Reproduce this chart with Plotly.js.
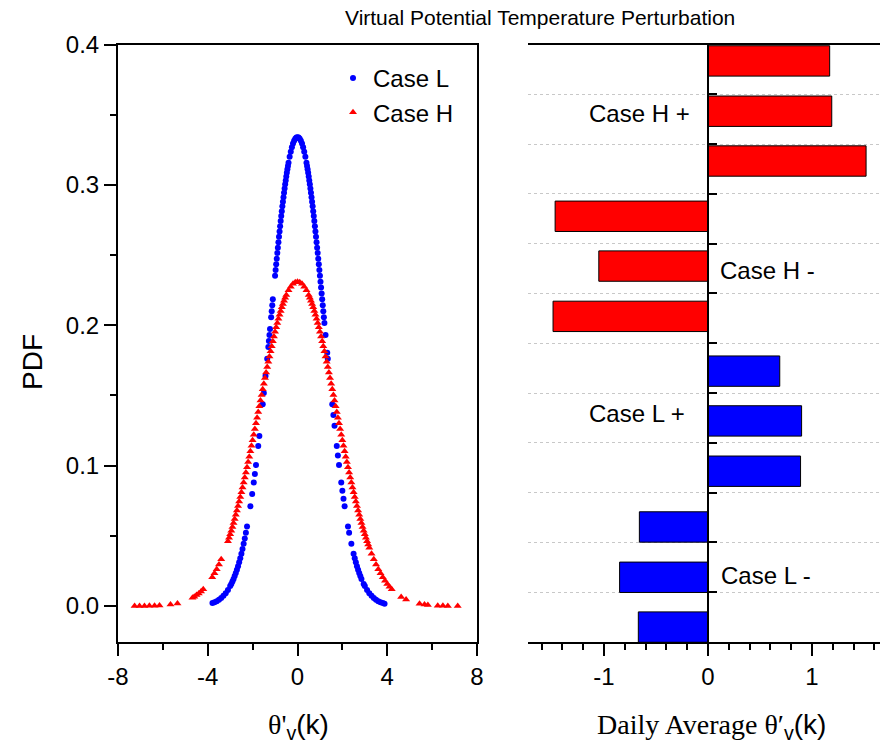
<!DOCTYPE html>
<html>
<head>
<meta charset="utf-8">
<script src="https://cdn.plot.ly/plotly-3.0.1.min.js"></script>
<style>html,body{margin:0;padding:0;background:#fff;}#chart{width:880px;height:753px;}</style>
</head>
<body>
<div id="chart"></div>
<script>
// ---- Left panel: PDF of virtual potential temperature perturbation ----
const caseLX = [-3.79,-3.7,-3.6,-3.5,-3.4,-3.3,-3.2,-3.1,-3.0,-2.95,-2.9,-2.85,-2.8,-2.75,-2.7,-2.65,-2.6,-2.55,-2.5,-2.45,-2.4,-2.35,-2.3,-2.25,
  -2.1,-2.02,-1.95,-1.9,-1.85,-1.75,-1.7,-1.55,-1.5,-1.425,-1.35,-1.3,-1.275,-1.25,-1.225,-1.175,-1.15,-1.125,-1.1,
  -1.0,-0.975,-0.95,-0.925,-0.9,-0.875,-0.85,-0.825,-0.8,-0.775,-0.75,-0.725,-0.7,-0.675,-0.65,-0.625,-0.6,
  -0.575,-0.55,-0.525,-0.5,-0.475,-0.45,-0.425,-0.4,-0.35,-0.3,-0.25,-0.2,-0.15,-0.1,-0.05,0,
  0.05,0.1,0.15,0.2,0.25,0.3,0.35,0.4,0.425,0.45,0.475,0.5,0.525,0.55,0.575,
  0.6,0.625,0.65,0.675,0.7,0.725,0.75,0.775,0.8,0.825,0.85,0.875,0.9,0.925,0.95,0.975,1.0,1.025,1.05,1.075,1.1,1.125,1.15,1.175,1.2,
  1.25,1.325,1.35,1.55,1.6,1.65,1.75,1.8,1.85,1.95,2.0,2.05,2.1,2.25,2.3,2.4,2.5,2.55,2.6,2.65,2.7,2.75,2.8,2.85,2.95,3.0,3.1,3.2,3.3,3.4,3.5,3.6,3.7,3.8,3.88];
const caseLY = [0.0022,0.0027,0.0035,0.0045,0.0058,0.0073,0.0092,0.0115,0.0142,0.0158,0.0175,0.0193,0.0214,0.0235,0.0259,0.0284,0.0312,0.0341,0.0373,0.0407,0.0443,0.0481,0.0522,0.0566,
  0.0711,0.0798,0.0880,0.0941,0.1005,0.1141,0.1212,0.1438,0.1517,0.1638,0.1762,0.1846,0.1888,0.1931,0.1973,0.2058,0.2100,0.2143,0.2185,
  0.2352,0.2393,0.2434,0.2474,0.2514,0.2553,0.2592,0.2631,0.2668,0.2706,0.2742,0.2778,0.2813,0.2847,0.2880,0.2912,0.2944,
  0.2974,0.3004,0.3032,0.3059,0.3086,0.3111,0.3135,0.3158,0.3200,0.3236,0.3268,0.3294,0.3314,0.3328,0.3337,0.3340,
  0.3337,0.3328,0.3314,0.3294,0.3268,0.3236,0.3200,0.3158,0.3135,0.3111,0.3086,0.3059,0.3032,0.3004,0.2974,
  0.2944,0.2912,0.2880,0.2847,0.2813,0.2778,0.2742,0.2706,0.2668,0.2631,0.2592,0.2553,0.2514,0.2474,0.2434,0.2393,0.2352,0.2310,0.2269,0.2227,0.2185,0.2143,0.2100,0.2058,0.2016,
  0.1931,0.1804,0.1762,0.1438,0.1361,0.1285,0.1141,0.1072,0.1005,0.0880,0.0821,0.0765,0.0711,0.0566,0.0522,0.0443,0.0373,0.0341,0.0312,0.0284,0.0259,0.0235,0.0214,0.0193,0.0158,0.0142,0.0115,0.0092,0.0073,0.0058,0.0045,0.0035,0.0027,0.0021,0.0017];

const caseHX = [-7.26,-7.04,-6.82,-6.6,-6.37,-6.15,-5.66,-5.35,-4.68,-4.6,-4.5,-4.4,-4.3,-4.2,-3.8,-3.7,-3.6,-3.5,-3.4,-3.1,-3.05,-3.0,
  -2.95,-2.9,-2.85,-2.8,-2.75,-2.7,-2.65,-2.6,-2.55,-2.5,-2.45,-2.4,-2.35,-2.3,-2.25,-2.2,-2.15,-2.1,-2.05,-2.0,
  -1.95,-1.9,-1.85,-1.8,-1.75,-1.7,-1.65,-1.6,-1.55,-1.5,-1.45,-1.4,-1.35,-1.3,-1.25,-1.2,-1.15,-1.1,-1.05,-1.0,
  -0.95,-0.9,-0.85,-0.8,-0.75,-0.7,-0.65,-0.6,-0.55,-0.5,-0.4,-0.3,-0.2,-0.1,0,0.1,0.2,0.3,0.4,
  0.5,0.55,0.6,0.65,0.7,0.75,0.8,0.85,0.9,0.95,1.0,1.05,1.1,1.15,1.2,1.25,1.3,1.35,1.4,1.45,1.5,1.55,1.6,1.65,1.7,1.75,
  1.8,1.85,1.9,1.95,2.0,2.05,2.1,2.15,2.2,2.25,2.3,2.35,2.4,2.45,2.5,2.55,2.6,2.65,2.7,2.75,2.8,2.85,2.9,2.95,3.0,
  3.05,3.1,3.15,3.2,3.3,3.4,3.5,3.6,3.7,3.8,3.9,4.0,4.1,4.2,4.62,4.84,5.44,5.66,5.81,6.25,6.48,6.7,7.14];
const caseHY = [0.0000,0.0001,0.0001,0.0002,0.0003,0.0004,0.0011,0.0019,0.0059,0.0067,0.0078,0.0090,0.0104,0.0120,0.0205,0.0233,0.0263,0.0296,0.0333,0.0461,0.0486,0.0511,
  0.0537,0.0564,0.0592,0.0621,0.0650,0.0681,0.0712,0.0744,0.0777,0.0810,0.0845,0.0880,0.0915,0.0952,0.0989,0.1026,0.1064,0.1103,0.1142,0.1181,
  0.1221,0.1261,0.1302,0.1342,0.1383,0.1423,0.1464,0.1504,0.1544,0.1584,0.1624,0.1663,0.1702,0.1740,0.1778,0.1815,0.1851,0.1886,0.1920,0.1954,
  0.1986,0.2017,0.2047,0.2075,0.2102,0.2128,0.2152,0.2175,0.2196,0.2215,0.2249,0.2275,0.2295,0.2306,0.2310,0.2306,0.2295,0.2275,0.2249,
  0.2215,0.2196,0.2175,0.2152,0.2128,0.2102,0.2075,0.2047,0.2017,0.1986,0.1954,0.1920,0.1886,0.1851,0.1815,0.1778,0.1740,0.1702,0.1663,0.1624,0.1584,0.1544,0.1504,0.1464,0.1423,0.1383,
  0.1342,0.1302,0.1261,0.1221,0.1181,0.1142,0.1103,0.1064,0.1026,0.0989,0.0952,0.0915,0.0880,0.0845,0.0810,0.0777,0.0744,0.0712,0.0681,0.0650,0.0621,0.0592,0.0564,0.0537,0.0511,
  0.0486,0.0461,0.0438,0.0415,0.0372,0.0333,0.0296,0.0263,0.0233,0.0205,0.0180,0.0158,0.0138,0.0120,0.0065,0.0046,0.0016,0.0011,0.0008,0.0003,0.0002,0.0001,0.0000];

const seriesNames = ['Case L', 'Case H'];

// ---- Right panel: daily average perturbation bars ----
const barValues = [1.17, 1.19, 1.52, -1.47, -1.05, -1.49, 0.69, 0.90, 0.89, -0.66, -0.85, -0.67];
const barPosition = [11.67, 10.66, 9.66, 8.55, 7.55, 6.54, 5.44, 4.44, 3.43, 2.31, 1.30, 0.30];
const barCase = ['H','H','H','H','H','H','L','L','L','L','L','L'];
const groupLabels = ['Case H +', 'Case H -', 'Case L +', 'Case L -'];

const leftXTicks = [-8, -4, 0, 4, 8];
const leftXTickText = ['-8', '-4', '0', '4', '8'];
const leftYTicks = [0, 0.1, 0.2, 0.3, 0.4];
const leftYTickText = ['0.0', '0.1', '0.2', '0.3', '0.4'];
const rightXTicks = [-1, 0, 1];
const rightXTickText = ['-1', '0', '1'];
const rightYTicks = [1, 2, 3, 4, 5, 6, 7, 8, 9, 10, 11];

const SANS = 'Arial, "Liberation Sans", sans-serif';
const SERIF = '"Times New Roman", "Liberation Serif", serif';
const BLUE = '#0000FF', RED = '#FF0000';

const traces = [
  {type: 'scatter', mode: 'markers', name: seriesNames[0], x: caseLX, y: caseLY,
   marker: {symbol: 'circle', size: 6, color: BLUE}, xaxis: 'x', yaxis: 'y'},
  {type: 'scatter', mode: 'markers', name: seriesNames[1], x: caseHX, y: caseHY,
   marker: {symbol: 'triangle-up', size: 7, color: RED}, xaxis: 'x', yaxis: 'y'},
  {type: 'bar', orientation: 'h', x: barValues, y: barPosition, width: 0.61,
   marker: {color: barCase.map(c => c === 'H' ? RED : BLUE), line: {color: '#000', width: 1}},
   xaxis: 'x2', yaxis: 'y2', showlegend: false, hoverinfo: 'skip'}
];

const W = 880, H = 753;
const yDom = [(H - 642) / H, (H - 44.5) / H];
const zeroPos = 708 / W;
const axCommon = {showline: true, linecolor: '#000', linewidth: 2, ticks: 'outside', tickcolor: '#000',
  tickwidth: 2, ticklen: 12, showgrid: false, zeroline: false, tickfont: {family: SANS, size: 24, color: '#000'}};

const layout = {
  width: W, height: H,
  margin: {l: 0, r: 0, t: 0, b: 0},
  paper_bgcolor: '#fff', plot_bgcolor: '#fff',
  font: {family: SANS, size: 24, color: '#000'},
  showlegend: true,
  legend: {x: 333 / W, y: 1 - 56 / H, xanchor: 'left', yanchor: 'top', bgcolor: 'rgba(0,0,0,0)',
    font: {family: SANS, size: 24, color: '#000'}, tracegroupgap: 0},
  xaxis: Object.assign({}, axCommon, {domain: [118 / W, 477 / W], range: [-8, 8], anchor: 'y', mirror: true,
    tickmode: 'array', tickvals: leftXTicks, ticktext: leftXTickText,
    minor: {tickmode: 'linear', tick0: 0, dtick: 2, ticks: 'outside', ticklen: 6, tickwidth: 2, tickcolor: '#000'}}),
  yaxis: Object.assign({}, axCommon, {domain: yDom, range: [-0.0256, 0.4], anchor: 'x', mirror: true,
    tickmode: 'array', tickvals: leftYTicks, ticktext: leftYTickText,
    minor: {tickmode: 'linear', tick0: 0, dtick: 0.05, ticks: 'outside', ticklen: 6, tickwidth: 2, tickcolor: '#000'}}),
  xaxis2: Object.assign({}, axCommon, {domain: [528 / W, 1], range: [-180 / 104, 172 / 104], anchor: 'y2', mirror: true,
    tickmode: 'array', tickvals: rightXTicks, ticktext: rightXTickText,
    minor: {tickmode: 'linear', tick0: 0, dtick: 0.2, ticks: 'outside', ticklen: 6, tickwidth: 2, tickcolor: '#000'}}),
  yaxis2: {domain: yDom, range: [0, 12], anchor: 'free', position: zeroPos, showline: true, linecolor: '#000', linewidth: 2,
    ticks: 'inside', ticklen: 8, tickwidth: 2, tickcolor: '#000', tickmode: 'array', tickvals: rightYTicks,
    showticklabels: false, showgrid: true, gridcolor: '#c8c8c8', gridwidth: 1, griddash: 'dot', zeroline: false},
  yaxis3: {overlaying: 'y2', range: [0, 12], anchor: 'x2', showline: true, linecolor: '#000', linewidth: 2,
    ticks: '', showticklabels: false, showgrid: false, zeroline: false},
  yaxis4: {overlaying: 'y2', range: [0, 12], anchor: 'free', position: zeroPos, showline: false,
    ticks: 'outside', ticklen: 7, tickwidth: 2, tickcolor: '#000', tickmode: 'array', tickvals: rightYTicks,
    showticklabels: false, showgrid: false, zeroline: false},
  annotations: [
    {text: 'Virtual Potential Temperature Perturbation', xref: 'paper', yref: 'paper', x: 540 / W, y: 1 - 18 / H,
     xanchor: 'center', yanchor: 'middle', showarrow: false, font: {family: SANS, size: 21, color: '#000'}},
    {text: 'PDF', xref: 'paper', yref: 'paper', x: 32 / W, y: 1 - 362 / H, textangle: -90,
     xanchor: 'center', yanchor: 'middle', showarrow: false, font: {family: SANS, size: 28, color: '#000'}},
    {text: '<span style="font-family:' + SERIF.replace(/"/g, "'") + '">θ\'</span><sub>v</sub>(k)', xref: 'paper', yref: 'paper',
     x: 298 / W, y: 1 - 726 / H, xanchor: 'center', yanchor: 'middle', showarrow: false, font: {family: SANS, size: 28, color: '#000'}},
    {text: '<span style="font-family:' + SERIF.replace(/"/g, "'") + '">Daily Average θ′</span><sub>v</sub>(k)', xref: 'paper', yref: 'paper',
     x: 711 / W, y: 1 - 726 / H, xanchor: 'center', yanchor: 'middle', showarrow: false, font: {family: SANS, size: 28, color: '#000'}},
    {text: groupLabels[0], xref: 'x2', yref: 'y2', x: -0.15, y: 10.62, xanchor: 'right', yanchor: 'middle', showarrow: false,
     font: {family: SANS, size: 24, color: '#000'}},
    {text: groupLabels[1], xref: 'x2', yref: 'y2', x: 0.095, y: 7.47, xanchor: 'left', yanchor: 'middle', showarrow: false,
     font: {family: SANS, size: 24, color: '#000'}},
    {text: groupLabels[2], xref: 'x2', yref: 'y2', x: -0.2, y: 4.58, xanchor: 'right', yanchor: 'middle', showarrow: false,
     font: {family: SANS, size: 24, color: '#000'}},
    {text: groupLabels[3], xref: 'x2', yref: 'y2', x: 0.105, y: 1.34, xanchor: 'left', yanchor: 'middle', showarrow: false,
     font: {family: SANS, size: 24, color: '#000'}}
  ]
};

Plotly.newPlot('chart', traces, layout, {displayModeBar: false, staticPlot: true});
</script>
</body>
</html>
